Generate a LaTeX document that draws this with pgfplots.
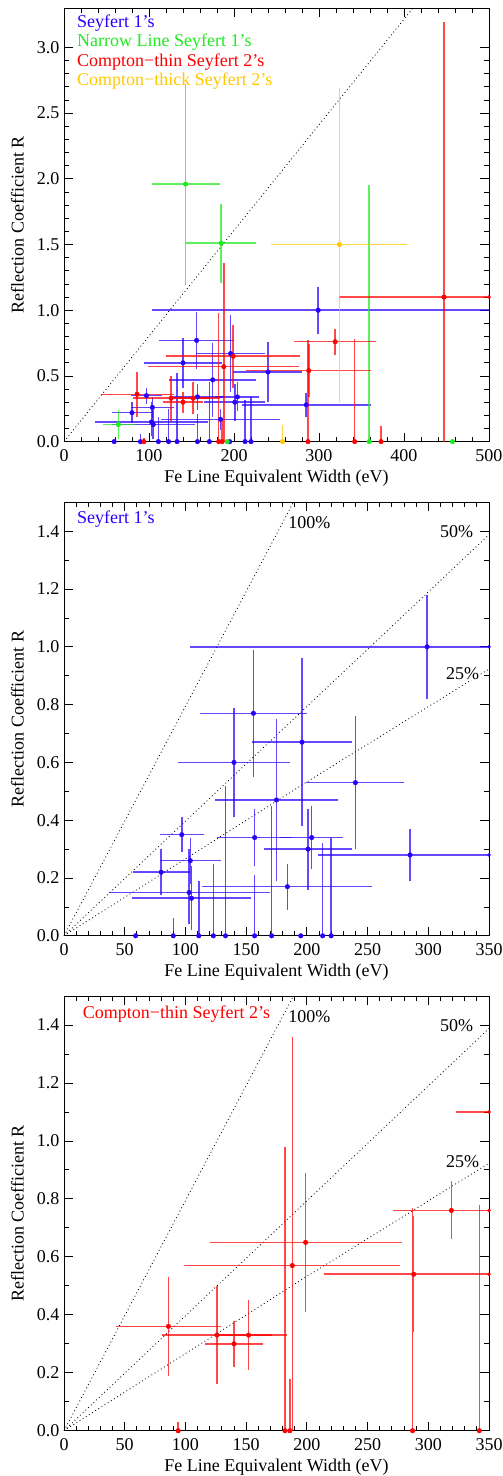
\documentclass[border=0pt]{standalone}
\usepackage{fontspec}
\setmainfont{Liberation Serif}
\usepackage{pgfplots}
\pgfplotsset{compat=1.18}
\usepackage{pgfplotstable}

\definecolor{sone}{RGB}{40,0,255}
\definecolor{nls}{RGB}{30,235,30}
\definecolor{cthin}{RGB}{255,0,0}
\definecolor{cthick}{RGB}{255,200,0}

% Seyfert 1's
\pgfplotstableread{
x y exm exp eym eyp
299 1.00 195 211 0.18 0.18
156 0.77 44 44 0.22 0.22
196 0.67 41 41 0.29 0.29
140 0.60 46 46 0.19 0.19
240 0.53 41 40 0.23 0.23
175 0.47 51 51 0.28 0.28
97 0.35 18 18 0.06 0.06
157 0.34 31 31 0.10 0.10
204 0.34 26 26 0.11 0.11
201 0.30 36 36 0.14 0.14
285 0.28 76 76 0.09 0.09
104 0.26 25 25 0.08 0.08
80 0.22 23 24 0.08 0.08
184 0.17 70 70 0.08 0.08
103 0.15 66 67 0.11 0.15
105 0.13 49 49 0.11 0.11
59 0 0 0 0 0.00
90 0 0 0 0 0.06
111 0 0 0 0 0.19
123 0 0 0 0 0.25
133 0 0 0 0 0.52
157 0 0 0 0 0.21
171 0 0 0 0 0.45
195 0 0 0 0 0.00
213 0 0 0 0 0.32
220 0 0 0 0 0.34
}\seyA

% Narrow line Seyfert 1's
\pgfplotstableread{
x y exm exp eym eyp
143 1.96 40 40 0.77 0.76
185 1.51 41 41 0.30 0.30
64 0.13 18 20 0.11 0.11
359 0 0 0 0 1.95
457 0 0 0 0 0
192 0 0 0 0 0
}\nlsA

% Compton-thin Seyfert 2's
\pgfplotstableread{
x y exm exp eym eyp
86 0.36 43 43 0.17 0.17
126 0.33 45 58 0.17 0.17
140 0.30 24 24 0.08 0.08
152 0.33 26 19 0.12 0.12
188 0.57 89 89 0.57 0.79
199 0.65 79 79 0.24 0.24
288 0.54 74 73 0.20 0.20
319 0.76 48 48 0.10 0.10
447 1.10 124 80 1.10 2.09
94 0 0 0 0 0.03
182 0 0 0 0 0.98
186 0 0 0 0 0.18
287 0 0 0 0 0.77
342 0 0 0 0 0.78
373 0 0 0 0 0.12
}\thinA

% Compton-thick Seyfert 2's
\pgfplotstableread{
x y exm exp eym eyp
324 1.50 80 79 1.20 1.19
257 0 0 0 0 0.13
}\thickA

\pgfplotsset{
  base/.style={
    scale only axis, width=425pt, xmin=0,
    tick align=inside, major tick length=9pt, minor tick length=5pt,
    axis line style={line width=0.8pt},
    every tick/.style={black, line width=0.8pt},
    xlabel={Fe Line Equivalent Width (eV)},
    ylabel={Reflection Coefficient R},
    xlabel style={anchor=north, inner sep=0pt},
    ylabel style={at={(axis description cs:-0.0941,0.5)}, anchor=south, inner sep=0pt},
    /pgf/number format/assume math mode=true,
    xticklabel style={yshift=-4pt},
    yticklabel style={xshift=-1pt, /pgf/number format/.cd, fixed, fixed zerofill, precision=1},
    clip=true,
  },
  grp/.style={only marks, mark=*, mark size=2.3pt, draw=#1, fill=#1,
    mark options={draw=#1, fill=#1},
    error bars/.cd, x dir=both, x explicit, y dir=both, y explicit,
    error mark=none, error bar style={line width=1.5pt, draw=#1, opacity=0.7}},
  edge/.style={only marks, mark=*, mark size=1.6pt, draw=#1, fill=#1},
  dots/.style={black, line width=0.8pt, dash pattern=on 0.9pt off 2.8pt},
}

\begin{document}
\begin{tikzpicture}[font=\fontsize{18}{19.5}\selectfont]
\path[use as bounding box] (0,0) rectangle (503pt,-1476pt);

% ---------- Panel 1 ----------
\begin{axis}[base, at={(64pt,-8pt)}, anchor=north west, height=433.6pt,
  xmax=500, ymin=0, ymax=3.3,
  xtick={0,100,200,300,400,500}, minor x tick num=4,
  ytick={0,0.5,1.0,1.5,2.0,2.5,3.0}, minor y tick num=4,
  xlabel style={at={(axis description cs:0.5,-0.0646)}}]
\addplot[dots] coordinates {(0,0) (410.6,3.3)};
\addplot[grp=sone] table[x=x, y=y, x error minus=exm, x error plus=exp, y error minus=eym, y error plus=eyp]{\seyA};
\addplot[grp=nls] table[x=x, y=y, x error minus=exm, x error plus=exp, y error minus=eym, y error plus=eyp]{\nlsA};
\addplot[grp=cthin] table[x=x, y=y, x error minus=exm, x error plus=exp, y error minus=eym, y error plus=eyp]{\thinA};
\addplot[grp=cthick] table[x=x, y=y, x error minus=exm, x error plus=exp, y error minus=eym, y error plus=eyp]{\thickA};
\addplot[edge=cthin] coordinates {(500,1.10)};
\node[anchor=west, inner sep=0pt, text=sone] at (rel axis cs:0.0306,0.9654) {Seyfert 1’s};
\node[anchor=west, inner sep=0pt, text=nls] at (rel axis cs:0.0306,0.9222) {Narrow Line Seyfert 1’s};
\node[anchor=west, inner sep=0pt, text=cthin] at (rel axis cs:0.0306,0.8760) {Compton−thin Seyfert 2’s};
\node[anchor=west, inner sep=0pt, text=cthick] at (rel axis cs:0.0306,0.8316) {Compton−thick Seyfert 2’s};
\end{axis}

% ---------- Panel 2 ----------
\begin{axis}[base, at={(64pt,-502.3pt)}, anchor=north west, height=433.5pt,
  xmax=350, ymin=0, ymax=1.5,
  xtick={0,50,100,150,200,250,300,350}, minor x tick num=4,
  ytick={0,0.2,0.4,0.6,0.8,1.0,1.2,1.4}, minor y tick num=1,
  xlabel style={at={(axis description cs:0.5,-0.0646)}}]
\addplot[dots] coordinates {(0,0) (188.9,1.5)};
\addplot[dots] coordinates {(0,0) (350,1.388)};
\addplot[dots] coordinates {(0,0) (199.8,0.532) (350,0.923)};
\addplot[grp=sone] table[x=x, y=y, x error minus=exm, x error plus=exp, y error minus=eym, y error plus=eyp]{\seyA};
\addplot[edge=sone] coordinates {(350,1.00) (350,0.28)};
\node[anchor=west, inner sep=0pt] at (axis cs:184.7,1.428) {100\%};
\node[anchor=west, inner sep=0pt] at (axis cs:309.6,1.397) {50\%};
\node[anchor=west, inner sep=0pt, fill=white] at (axis cs:314.6,0.908) {25\%};
\node[anchor=west, inner sep=0pt, text=sone] at (rel axis cs:0.0306,0.961) {Seyfert 1’s};
\end{axis}

% ---------- Panel 3 ----------
\begin{axis}[base, at={(64pt,-996pt)}, anchor=north west, height=434.7pt,
  xmax=350, ymin=0, ymax=1.5,
  xtick={0,50,100,150,200,250,300,350}, minor x tick num=4,
  ytick={0,0.2,0.4,0.6,0.8,1.0,1.2,1.4}, minor y tick num=1,
  xlabel style={at={(axis description cs:0.5,-0.0646)}}]
\addplot[dots] coordinates {(0,0) (188.9,1.5)};
\addplot[dots] coordinates {(0,0) (350,1.388)};
\addplot[dots] coordinates {(0,0) (199.8,0.532) (350,0.923)};
\addplot[grp=cthin] table[x=x, y=y, x error minus=exm, x error plus=exp, y error minus=eym, y error plus=eyp]{\thinA};
\addplot[edge=cthin] coordinates {(350,1.10) (350,0.76) (350,0.54)};
\node[anchor=west, inner sep=0pt] at (axis cs:184.7,1.43) {100\%};
\node[anchor=west, inner sep=0pt] at (axis cs:309.6,1.398) {50\%};
\node[anchor=west, inner sep=0pt, fill=white] at (axis cs:314.6,0.929) {25\%};
\node[anchor=west, inner sep=0pt, text=cthin] at (rel axis cs:0.044,0.9586) {Compton−thin Seyfert 2’s};
\end{axis}
\end{tikzpicture}
\end{document}
